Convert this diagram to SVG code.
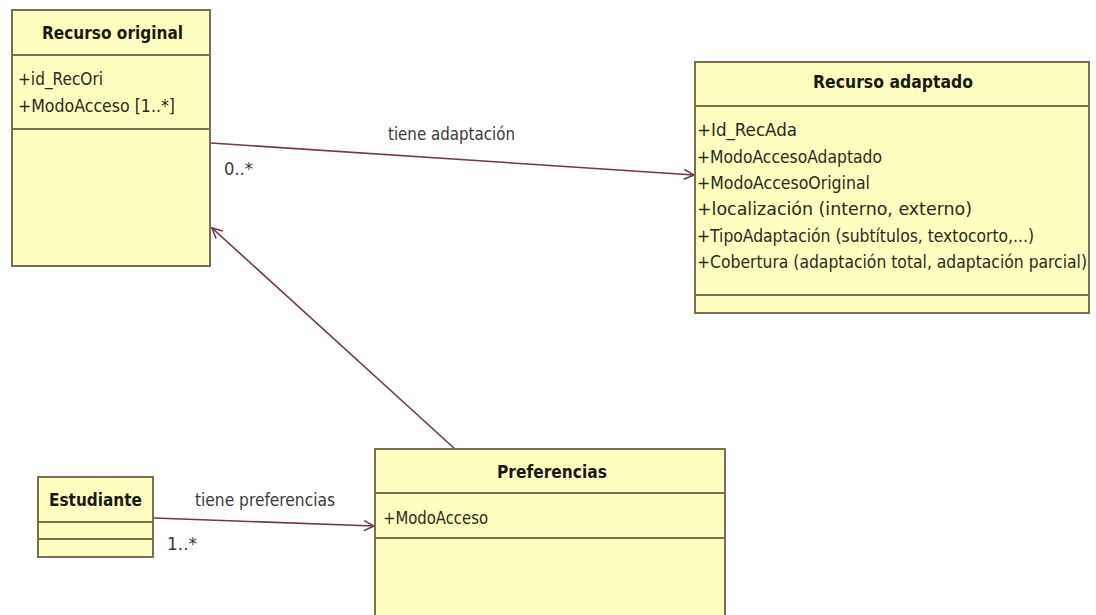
<svg xmlns="http://www.w3.org/2000/svg" width="1096" height="615" viewBox="0 0 1096 615">
<style>
.box{fill:#ffffc2;stroke:#7d6e4e;stroke-width:2}
.div{stroke:#7d6e4e;stroke-width:2}
.t{font-family:"DejaVu Sans Condensed","Liberation Sans",sans-serif;font-size:17px;fill:#2a2a1a}
.b{font-family:"DejaVu Sans Condensed","Liberation Sans",sans-serif;font-size:18.5px;font-weight:bold;fill:#1a1a10}
.lbl{font-family:"DejaVu Sans Condensed","Liberation Sans",sans-serif;font-size:17px;fill:#3a3a3a}
.conn{fill:none;stroke:#6e3b4a;stroke-width:1.6}
</style>
<defs>
<marker id="open" viewBox="0 0 12 12" refX="11" refY="6" markerWidth="12" markerHeight="12" markerUnits="userSpaceOnUse" orient="auto">
<path d="M1,1 L11,6 L1,11" fill="none" stroke="#6e3b4a" stroke-width="1.6"/>
</marker>
</defs>
<rect width="1096" height="615" fill="#ffffff"/>
<g id="connectors">
<line class="conn" x1="211" y1="143" x2="694" y2="175" marker-end="url(#open)"/>
<line class="conn" x1="455" y1="449" x2="212" y2="228" marker-end="url(#open)"/>
<line class="conn" x1="154" y1="518" x2="374" y2="526" marker-end="url(#open)"/>
<text class="lbl" x="388" y="140" textLength="127" lengthAdjust="spacingAndGlyphs">tiene adaptación</text>
<text class="lbl" x="224" y="175" textLength="29" lengthAdjust="spacingAndGlyphs">0..*</text>
<text class="lbl" x="195" y="506" textLength="140" lengthAdjust="spacingAndGlyphs">tiene preferencias</text>
<text class="lbl" x="167" y="550" textLength="30" lengthAdjust="spacingAndGlyphs">1..*</text>
</g>
<g id="recurso-original">
<rect class="box" x="12" y="10" width="198" height="256"/>
<line class="div" x1="12" y1="55" x2="210" y2="55"/>
<line class="div" x1="12" y1="129" x2="210" y2="129"/>
<text class="b" x="42" y="39" textLength="141" lengthAdjust="spacingAndGlyphs">Recurso original</text>
<text class="t" x="18" y="85" textLength="85" lengthAdjust="spacingAndGlyphs">+id_RecOri</text>
<text class="t" x="18" y="112" textLength="157" lengthAdjust="spacingAndGlyphs">+ModoAcceso [1..*]</text>
</g>
<g id="recurso-adaptado">
<rect class="box" x="695" y="62" width="394" height="251"/>
<line class="div" x1="695" y1="106" x2="1089" y2="106"/>
<line class="div" x1="695" y1="295" x2="1089" y2="295"/>
<text class="b" x="813" y="88" textLength="160" lengthAdjust="spacingAndGlyphs">Recurso adaptado</text>
<text class="t" x="697" y="136" textLength="100" lengthAdjust="spacingAndGlyphs">+Id_RecAda</text>
<text class="t" x="697" y="163" textLength="185" lengthAdjust="spacingAndGlyphs">+ModoAccesoAdaptado</text>
<text class="t" x="697" y="189" textLength="173" lengthAdjust="spacingAndGlyphs">+ModoAccesoOriginal</text>
<text class="t" x="697" y="215" textLength="275" lengthAdjust="spacingAndGlyphs">+localización (interno, externo)</text>
<text class="t" x="697" y="242" textLength="337" lengthAdjust="spacingAndGlyphs">+TipoAdaptación (subtítulos, textocorto,...)</text>
<text class="t" x="697" y="268" textLength="390" lengthAdjust="spacingAndGlyphs">+Cobertura (adaptación total, adaptación parcial)</text>
</g>
<g id="estudiante">
<rect class="box" x="38" y="477" width="115" height="80"/>
<line class="div" x1="38" y1="522" x2="153" y2="522"/>
<line class="div" x1="38" y1="539" x2="153" y2="539"/>
<text class="b" x="49" y="506" textLength="93" lengthAdjust="spacingAndGlyphs">Estudiante</text>
</g>
<g id="preferencias">
<rect class="box" x="375" y="449" width="350" height="180"/>
<line class="div" x1="375" y1="493" x2="725" y2="493"/>
<line class="div" x1="375" y1="538" x2="725" y2="538"/>
<text class="b" x="497" y="478" textLength="110" lengthAdjust="spacingAndGlyphs">Preferencias</text>
<text class="t" x="383" y="524" textLength="105" lengthAdjust="spacingAndGlyphs">+ModoAcceso</text>
</g>
</svg>
